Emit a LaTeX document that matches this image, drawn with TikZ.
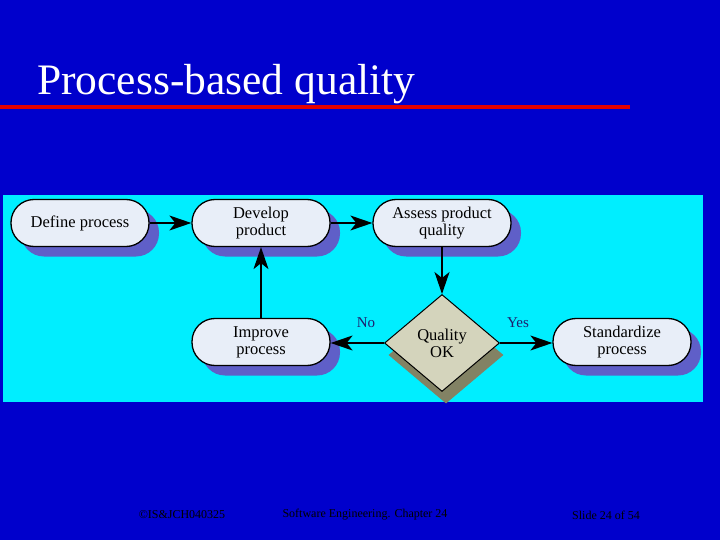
\documentclass[tikz,border=0pt]{standalone}
\usepackage{fontspec}
\setmainfont{Liberation Serif}
\usetikzlibrary{shapes.geometric,arrows.meta}
\definecolor{bg}{RGB}{0,0,204}
\definecolor{panel}{RGB}{0,238,255}
\definecolor{shad}{RGB}{95,95,200}
\definecolor{nodefill}{RGB}{232,238,248}
\definecolor{dfill}{RGB}{212,212,188}
\definecolor{dshad}{RGB}{130,130,100}
\definecolor{lbl}{RGB}{30,30,110}
\begin{document}
\begin{tikzpicture}[x=1pt,y=-1pt,
  proc/.style={draw=black,line width=1.3pt,rounded corners=23pt,fill=nodefill,minimum height=47pt,minimum width=138pt,align=center,font=\fontsize{16.5}{17}\selectfont,inner sep=0pt},
  procshadow/.style={fill=shad,rounded corners=23pt,minimum height=47pt,minimum width=138pt,inner sep=0pt},
  dia/.style={diamond,draw=black,line width=1pt,fill=dfill,minimum width=115pt,minimum height=97pt,inner sep=0pt,align=center,font=\fontsize{16.5}{17}\selectfont},
  diashadow/.style={diamond,fill=dshad,minimum width=115pt,minimum height=97pt,inner sep=0pt},
  arr/.style={line width=1.3pt,-{Stealth[length=22pt,width=15pt,inset=6pt]}},
  foot/.style={font=\fontsize{12}{12}\selectfont,text=black}]
\fill[bg] (0,0) rectangle (720,540);
\node[anchor=base west,font=\fontsize{43.5}{44}\selectfont,text=white,inner sep=0pt] (title) at (37,95) {Process-based quality};
\fill[red!90!black] (0,105) rectangle (630,109);
\fill[panel] (3,195) rectangle (703,402);
% shadows
\foreach \p in {(90,233),(271,233),(452,233),(271,352),(632,352)}
  \node[procshadow] at \p {};
\node[diashadow] at (446,355) {};
% nodes
\node[proc] (def) at (80,223) {Define process};
\node[proc] (dev) at (261,223) {Develop\\product};
\node[proc] (ass) at (442,223) {Assess product\\quality};
\node[proc] (imp) at (261,342) {Improve\\process};
\node[proc] (std) at (622,342) {Standardize\\process};
\node[dia] (q) at (442,343) {Quality\\OK};
\draw[arr] (def) -- (dev);
\draw[arr] (dev) -- (ass);
\draw[arr] (ass) -- (q);
\draw[arr] (q.east) -- (std.west |- q.east);
\draw[arr] (q.west) -- (imp.east |- q.west);
\draw[arr] (imp) -- (dev);
\node[font=\fontsize{15}{15}\selectfont,text=lbl] (no) at (366,323) {No};
\node[font=\fontsize{15}{15}\selectfont,text=lbl] (yes) at (518,323) {Yes};
\node[foot] (f1) at (182,515) {©IS\&JCH040325};
\node[foot] (f2) at (365,515) {Software Engineering. Chapter 24};
\node[foot] (f3) at (606,515) {Slide 24 of 54};
\end{tikzpicture}
\end{document}
